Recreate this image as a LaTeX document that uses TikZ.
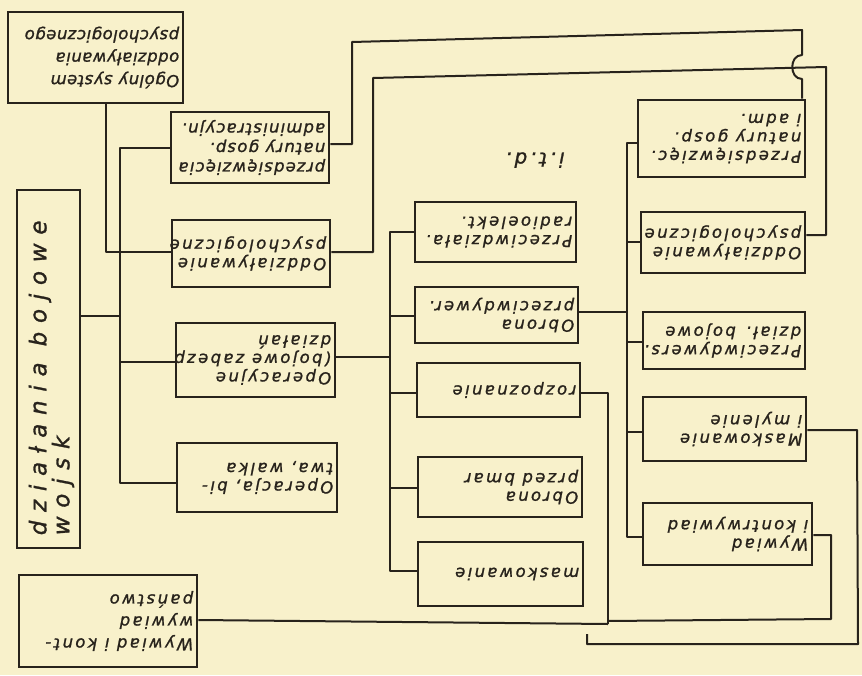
\documentclass[tikz,border=0pt]{standalone}
\usepackage{fontspec}
\usepackage{graphicx}
\newfontfamily\hand[LetterSpace=14,FakeBold=1.2]{DejaVu Sans}
\newfontfamily\handtight[LetterSpace=3,FakeBold=1.2]{DejaVu Sans}
\newfontfamily\handmid[LetterSpace=7,FakeBold=1.2]{DejaVu Sans}
\newfontfamily\handbig[LetterSpace=38,FakeBold=1.2]{DejaVu Sans}
\definecolor{paper}{RGB}{248,241,203}
\definecolor{ink}{RGB}{40,35,28}
\tikzset{
  box/.style={draw=ink, line width=2.9pt, inner sep=0pt},
  conn/.style={draw=ink, line width=2pt, line join=round},
  txt/.style={rotate=180, anchor=west, align=left, inner sep=0pt, text=ink,
    font=\hand\itshape\fontsize{16.5}{18.5}\selectfont},
}
\newcommand\bx[5]{\node[box, minimum width={(#4-#2)*1pt}, minimum height={(#5-#3)*1pt}] (#1) at ({(#2+#4)/2},{(#3+#5)/2}) {};}
\newcommand\tx[3][]{\node[txt,#1] at ([xshift=-5pt]#2.east) {#3};}
\begin{document}
\begin{tikzpicture}[x=1pt,y=-1pt]
\fill[paper] (0,0) rectangle (862,675);
\useasboundingbox (0,0) rectangle (862,675);
% boxes
\bx{ogol}{8}{12}{183}{103}
\bx{dz}{17}{190}{80}{548}
\bx{lPrz}{171}{112}{329}{183}
\bx{lOdd}{172}{220}{330}{287}
\bx{lOper}{176}{323}{335}{397}
\bx{lBit}{177}{443}{337}{512}
\bx{mRad}{415}{202}{576}{262}
\bx{mObr}{415}{287}{578}{343}
\bx{mRoz}{417}{363}{580}{417}
\bx{mBmr}{418}{457}{582}{517}
\bx{mMask}{418}{542}{583}{606}
\bx{rPrz}{638}{100}{805}{177}
\bx{rOdd}{641}{212}{805}{273}
\bx{rPrzeciw}{643}{312}{805}{369}
\bx{rMask}{643}{397}{806}{461}
\bx{rWyw}{643}{503}{812}{565}
\bx{lWyw}{19}{575}{197}{667}
% texts
\tx[font=\handtight\itshape\fontsize{16.5}{22.5}\selectfont]{ogol}{Ogólny system\\oddziaływania\\psychologicznego}
\node[rotate=90, anchor=west, align=left, inner sep=0pt, text=ink,
  font=\handbig\itshape\fontsize{23}{23}\selectfont] at ([yshift=14pt,xshift=3pt]dz.south) {działania bojowe\\wojsk};
\tx[font=\handmid\itshape\fontsize{16.5}{19.5}\selectfont]{lPrz}{przedsięwzięcia\\natury gosp.\\administracyjn.}
\tx{lOdd}{Oddziaływanie\\psychologiczne}
\tx{lOper}{Operacyjne\\(bojowe zabezp\\działań}
\tx{lBit}{Operacja, bi-\\twa, walka}
\tx{mRad}{Przeciwdziała.\\radioelekt.}
\tx{mObr}{Obrona\\przeciwdywer.}
\tx{mRoz}{rozpoznanie}
\tx{mBmr}{Obrona\\przed bmar}
\tx{mMask}{maskowanie}
\tx{rPrz}{Przedsięwzięc.\\natury gosp.\\i adm.}
\tx{rOdd}{Oddziaływanie\\psychologiczne}
\tx{rPrzeciw}{Przeciwdywers.\\dział. bojowe}
\tx{rMask}{Maskowanie\\i mylenie}
\tx{rWyw}{Wywiad\\i kontrwywiad}
\tx[font=\hand\itshape\fontsize{16.5}{22}\selectfont]{lWyw}{Wywiad i kont-\\wywiad\\państwo}
\node[txt, anchor=center, font=\hand\itshape\fontsize{20}{20}\selectfont] (itd) at (535,160) {i.t.d.};
% connectors: left part
\draw[conn] (ogol.south -| 106,0) -- (106,252) -- (lOdd.west |- 0,252);
\draw[conn] (dz.east |- 0,316) -- (120,316);
\draw[conn] (lPrz.west |- 0,148) -- (120,148) -- (120,483) -- (lBit.west |- 0,483);
\draw[conn] (120,362) -- (lOper.west |- 0,362);
% middle bus
\draw[conn] (lOper.east |- 0,357) -- (390,357);
\draw[conn] (mRad.west |- 0,232) -- (390,232) -- (390,571) -- (mMask.west |- 0,571);
\draw[conn] (390,316) -- (mObr.west |- 0,316);
\draw[conn] (390,393) -- (mRoz.west |- 0,393);
\draw[conn] (390,488) -- (mBmr.west |- 0,488);
% right bus
\draw[conn] (mObr.east |- 0,312) -- (627,312);
\draw[conn] (rPrz.west |- 0,143) -- (627,143) -- (627,537) -- (rWyw.west |- 0,537);
\draw[conn] (627,242) -- (rOdd.west |- 0,242);
\draw[conn] (627,342) -- (rPrzeciw.west |- 0,342);
\draw[conn] (627,432) -- (rMask.west |- 0,432);
% long top lines
\draw[conn] (lPrz.east |- 0,144) -- (352,144) -- (352,42) -- (802,30) -- (802,55)
  .. controls (789,55) and (789,79) .. (802,79) -- (rPrz.north -| 802,0);
\draw[conn] (lOdd.east |- 0,252) -- (373,252) -- (373,78) -- (826,67) -- (826,235) -- (rOdd.east |- 0,235);
% bottom lines
\draw[conn] (mRoz.east |- 0,393) -- (608,393) -- (608,624);
\draw[conn] (lWyw.east |- 0,620) -- (608,624);
\draw[conn] (608,621) -- (831,619) -- (831,535) -- (rWyw.east |- 0,535);
\coordinate (mend) at (587,634);
\draw[conn] (rMask.east |- 0,430) -- (857,430) -- (858,644) -- (587,644) -- (mend);
\end{tikzpicture}
\end{document}
